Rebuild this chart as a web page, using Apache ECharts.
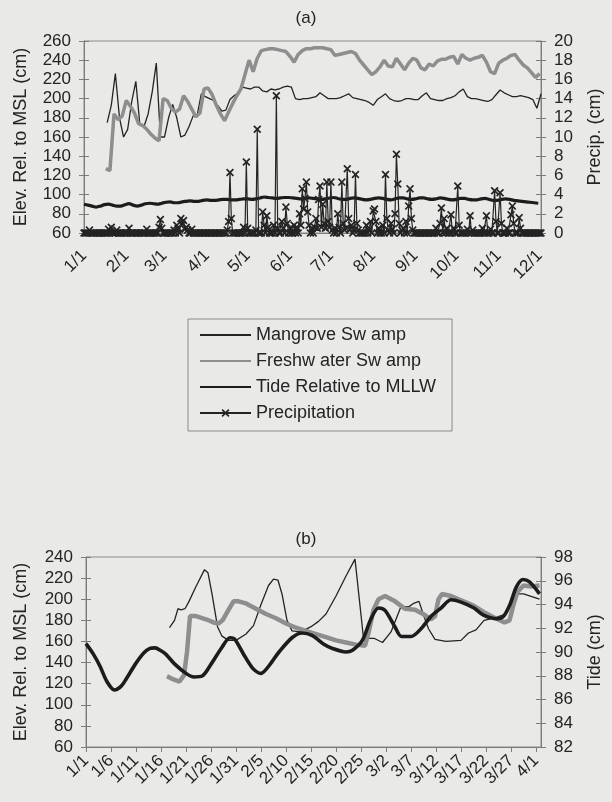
<!DOCTYPE html>
<html>
<head>
<meta charset="utf-8">
<script src="https://cdn.jsdelivr.net/npm/echarts@6.0.0/dist/echarts.min.js"></script>
<style>
html, body { margin: 0; padding: 0; background: #e9e9e7; }
#chart { width: 612px; height: 802px; }
</style>
</head>
<body>
<div id="chart"></div>
<script>
// ---- chart (a): whole year, x = day of year (0 = 1/1) ----
var monthDays = [0, 31, 59, 90, 120, 151, 181, 212, 243, 273, 304, 334];
var monthLabels = ['1/1', '2/1', '3/1', '4/1', '5/1', '6/1', '7/1', '8/1', '9/1', '10/1', '11/1', '12/1'];

// mangrove, every 3 days from day 17
var aMangroveVals = [175, 193, 226, 180, 160, 168, 197, 218, 172, 171,
  184, 207, 237, 160, 160, 180, 194, 180, 160, 162,
  171, 182, 183, 205, 202, 200, 198, 193, 187, 188,
  199, 203, 206, 212, 211, 210, 212, 212, 208, 207,
  210, 209, 210, 212, 213, 212, 200, 199, 200, 200,
  201, 202, 206, 203, 200, 200, 200, 201, 203, 205,
  201, 200, 199, 198, 196, 193, 199, 202, 205, 200,
  198, 197, 198, 200, 200, 199, 199, 203, 206, 200,
  199, 198, 198, 200, 201, 203, 207, 210, 202, 200,
  200, 199, 198, 197, 199, 204, 209, 206, 204, 202,
  202, 203, 202, 201, 199, 190, 205];

// freshwater, every 3 days from day 16
var aFreshVals = [127, 125, 184, 178, 182, 198, 192, 185, 174, 172,
  168, 163, 159, 156, 200, 198, 190, 186, 189, 203,
  197, 189, 181, 185, 210, 211, 204, 193, 184, 177,
  186, 195, 203, 210, 225, 240, 228, 242, 250, 251,
  252, 252, 251, 250, 249, 244, 238, 246, 250, 252,
  252, 253, 253, 253, 252, 251, 245, 246, 247, 248,
  249, 247, 240, 235, 230, 225, 228, 233, 240, 234,
  233, 242, 236, 230, 237, 242, 240, 232, 230, 236,
  234, 239, 241, 241, 243, 244, 236, 246, 242, 240,
  242, 243, 245, 238, 228, 226, 237, 240, 242, 245,
  246, 240, 235, 232, 227, 222, 226];

// tide relative to MLLW, every 3 days from day 0
var aTideVals = [90, 89, 88, 87, 88, 89.5, 90, 89, 88, 88,
  89.5, 90.5, 89, 88, 89, 90.5, 91, 90.5, 90, 91,
  92, 92.5, 91.5, 91.5, 92.5, 93, 93.5, 93, 93, 94,
  94.5, 94, 94, 94.5, 95, 95, 94.5, 94.5, 95, 95.5,
  95.5, 95, 95.5, 96.5, 97.5, 97, 96.5, 96, 96.5, 97,
  97, 96.5, 96, 95.5, 96, 96.5, 96, 95.5, 95, 95.5,
  96.5, 97, 96, 95, 95, 96, 96.5, 96, 95, 94.5,
  95, 96, 96.5, 96, 95, 94.5, 95.5, 96.5, 96.5, 95.5,
  95, 95.5, 96.5, 96.5, 95.5, 95, 95.5, 96.5, 96, 95,
  94.5, 95, 96, 96, 95, 94.5, 94.5, 95.5, 96, 95,
  94, 94, 95, 95.5, 95, 94, 93.5, 93, 92.5, 92,
  91.5, 91];

// daily precipitation (cm), day 0 .. 335
var aPrecipVals = [
  0, 0, 0, 0, 0.3, 0, 0, 0, 0, 0,
  0, 0, 0, 0, 0, 0, 0, 0, 0.4, 0,
  0.6, 0, 0, 0, 0.3, 0, 0, 0, 0, 0,
  0, 0, 0, 0.5, 0, 0, 0, 0, 0, 0,
  0, 0, 0, 0, 0, 0, 0.4, 0, 0, 0,
  0, 0, 0, 0, 0, 0.6, 1.4, 0.5, 0, 0,
  0, 0, 0, 0, 0, 0, 0.3, 0, 0.8, 0.5,
  0, 1.5, 0.9, 1.3, 0.4, 0.6, 0.3, 0, 0, 0.4,
  0, 0, 0, 0, 0, 0, 0, 0, 0, 0,
  0, 0, 0, 0, 0, 0, 0, 0, 0, 0,
  0, 0, 0, 0, 0, 0.3, 1.2, 6.3, 1.5, 0,
  0, 0, 0, 0, 0, 0, 0, 0.6, 0, 7.4,
  0.5, 0, 0, 0, 0, 0, 0.3, 10.8, 0, 0,
  0, 2.2, 0.8, 0, 1.8, 0.6, 0, 0, 0, 0.8,
  0, 14.3, 0.5, 0, 0, 1.2, 0.5, 0, 2.7, 1.0,
  0, 0.5, 0, 0, 0.8, 0, 0.6, 0, 2.0, 0.8,
  4.6, 2.5, 3.6, 5.3, 2.2, 0.8, 0, 0.5, 0, 0.6,
  1.5, 0.5, 3.5, 4.9, 0.6, 3.0, 1.0, 0.5, 5.3, 1.2,
  0.6, 5.3, 0.3, 0, 0.5, 0, 2.0, 0.6, 0, 5.3,
  1.0, 0.3, 0.5, 6.7, 1.5, 0.4, 0.8, 0, 0.3, 6.1,
  1.0, 0.3, 0, 0, 0, 0, 0, 0.8, 0, 0.3,
  1.2, 0, 2.3, 2.5, 1.2, 0, 0.5, 0, 0, 0.8,
  0, 6.1, 1.5, 0.3, 0, 1.0, 0.4, 0, 2.0, 8.2,
  5.1, 1.0, 0, 0.3, 0.5, 0, 1.2, 0, 2.8, 4.6,
  1.5, 0.3, 0, 0, 0, 0, 0, 0, 0, 0,
  0, 0, 0, 0, 0, 0, 0, 0, 0.5, 0,
  0, 1.0, 2.6, 0, 1.5, 0, 0.5, 0, 0, 1.9,
  0, 0.5, 0, 0, 4.9, 0.8, 0, 0, 0, 0,
  0, 0.4, 0, 1.8, 0, 0.3, 0, 0, 0, 0,
  0, 0, 0.5, 0, 0, 1.8, 0, 0, 0.4, 0,
  0, 4.4, 1.2, 0, 0, 4.2, 1.0, 0, 0, 0,
  0.5, 0, 0, 1.9, 2.8, 1.0, 0, 0, 0, 1.6,
  0.5, 0, 0, 0, 0, 0, 0, 0, 0, 0,
  0, 0, 0, 0, 0, 0];

// ---- chart (b): 1/1 - 4/1 ----
var bTickDays = [0, 5, 10, 15, 20, 25, 30, 35, 40, 45, 50, 55, 60, 65, 70, 75, 80, 85, 90];
var bTickLabels = ['1/1', '1/6', '1/11', '1/16', '1/21', '1/26', '1/31', '2/5', '2/10', '2/15',
  '2/20', '2/25', '3/2', '3/7', '3/12', '3/17', '3/22', '3/27', '4/1'];

var bMangroveDays = [16.7, 17.7, 18.4, 19, 19.8, 20.5, 22, 23.7, 24.4, 25.2, 26.3, 27.2, 28.5, 30, 32, 33.5, 35,
  36.5, 37.5, 38.4, 39.2, 40.2, 41.2, 43, 45, 46.5, 48, 50, 52, 53.8, 55.5, 57.6, 59.3, 61, 63, 64.6,
  65.5, 66.6, 67.5, 68.5, 69.8, 72, 75, 76.5, 78, 79.6, 81.5, 84, 85.7, 87.5, 90.7];
var bMangroveVals = [173, 180, 191, 190, 191, 197, 212, 228, 225, 205, 174, 165, 161, 161, 167, 175, 195,
  213, 219, 218, 205, 180, 170, 169, 174, 179, 186, 203, 222, 238, 163, 163, 159, 169, 193, 193,
  196, 198, 185, 172, 162, 160, 161, 168, 171, 180, 182, 186, 205, 205, 200];

var bFreshDays = [16.2, 17.5, 18.7, 19.6, 20.2, 20.8, 22, 24, 25.5, 26.5, 27.3, 28.5, 29.5, 30.5, 32, 34, 36,
  38, 40, 42, 44, 46, 48, 50, 52, 54, 55.8, 56.5, 57.5, 58.5, 59.8, 61.8, 63.8, 65.8, 67.4, 69, 69.8,
  70.5, 71.2, 73, 75, 77.5, 79.5, 81.5, 83.7, 84.7, 85.5, 86.3, 87.5, 89, 90.7];
var bFreshVals = [127, 124, 122, 128, 150, 184, 184, 181, 178, 177, 180, 190, 198, 198, 196, 191, 186,
  182, 177, 173, 170, 167, 164, 161, 159, 157, 156, 168, 190, 200, 203, 198, 191, 190, 186, 181, 184,
  200, 205, 203, 199, 194, 188, 183, 178, 180, 195, 207, 213, 212, 213];

var bTideDays = [0, 1.5, 2.8, 4.2, 5.7, 7, 8, 9.9, 11.5, 12.8, 13.8, 15, 16, 17.7, 20, 21.6, 23.3, 24.9,
  27.2, 28.8, 29.7, 31.4, 33.4, 35, 36.7, 38.6, 41.2, 43.2, 45.2, 47.4, 49.3, 52, 53.3, 55.3, 56.9,
  58.5, 59.8, 61.8, 63.1, 65, 67.1, 69, 71, 73, 75, 77.6, 79.5, 82.2, 83.5, 84.8, 86.1, 87.4, 88.7, 90.7];
var bTideVals = [90.7, 89.8, 88.8, 87.5, 86.8, 87.1, 87.7, 89.0, 89.9, 90.3, 90.35, 90.1, 89.8, 89.0, 88.2,
  87.9, 88.0, 88.9, 90.4, 91.2, 91.1, 89.9, 88.6, 88.2, 88.9, 90.0, 91.2, 91.6, 91.4, 90.7, 90.3, 90.0,
  90.15, 91.0, 92.7, 93.7, 93.5, 92.1, 91.3, 91.3, 92.0, 93.0, 93.7, 94.4, 94.2, 93.7, 93.1, 92.8, 93.0,
  94.0, 95.5, 96.1, 95.9, 94.9];

var seriesNames = ['Mangrove Sw amp', 'Freshw ater Sw amp', 'Tide Relative to MLLW', 'Precipitation'];

var FONT = '"Liberation Sans", Arial, sans-serif';
var INK = '#242424';
var AXIS = '#7c7c7c';
var GRAY = '#8e8e8e';
// x-shaped marker
var XMARK = 'path://M0,1.5L1.5,0L5,3.5L8.5,0L10,1.5L6.5,5L10,8.5L8.5,10L5,6.5L1.5,10L0,8.5L3.5,5Z';

function stepData(start, step, vals) {
  return vals.map(function (v, i) { return [start + i * step, v]; });
}
function pairData(days, vals) {
  return days.map(function (d, i) { return [d, vals[i]]; });
}

function valueAxis(grid, pos, min, max, interval, name, gap) {
  return {
    type: 'value', gridIndex: grid, position: pos,
    min: min, max: max, interval: interval,
    name: name, nameLocation: 'middle', nameRotate: 90, nameGap: gap,
    nameTextStyle: { fontFamily: FONT, fontSize: 18, color: INK },
    axisLine: { show: true, lineStyle: { color: AXIS, width: 1 } },
    axisTick: { show: true, length: 5, lineStyle: { color: AXIS } },
    axisLabel: { margin: 13, fontFamily: FONT, fontSize: 17, color: INK },
    splitLine: { show: false }
  };
}
// second axis on the same side, only to make the ticks cross the axis line
function innerTicks(grid, pos, min, max, interval) {
  return {
    type: 'value', gridIndex: grid, position: pos,
    min: min, max: max, interval: interval,
    axisLine: { show: false }, axisLabel: { show: false }, splitLine: { show: false },
    axisTick: { show: true, inside: true, length: 5, lineStyle: { color: AXIS } }
  };
}

// legend entries: plain line samples, except precipitation which keeps its marker
var noMarker = { color: 'rgba(0,0,0,0)', borderWidth: 0 };
var legendData = [
  { name: seriesNames[0], itemStyle: noMarker },
  { name: seriesNames[1], itemStyle: noMarker },
  { name: seriesNames[2], itemStyle: noMarker },
  { name: seriesNames[3] }
];

var chart = echarts.init(document.getElementById('chart'), null, { renderer: 'canvas' });

chart.setOption({
  backgroundColor: '#e9e9e7',
  animation: false,
  title: [
    { text: '(a)', left: 'center', top: 5, textStyle: { fontFamily: FONT, fontSize: 17, fontWeight: 'normal', color: INK } },
    { text: '(b)', left: 'center', top: 526, textStyle: { fontFamily: FONT, fontSize: 17, fontWeight: 'normal', color: INK } }
  ],
  legend: {
    orient: 'vertical', left: 188, top: 319,
    data: legendData, selectedMode: false,
    itemWidth: 51, itemHeight: 10, itemGap: 8,
    padding: [7, 16, 9, 11],
    borderColor: '#8a8a8a', borderWidth: 1,
    textStyle: { fontFamily: FONT, fontSize: 18, color: INK }
  },
  grid: [
    { left: 84, right: 69, top: 41, height: 192, show: true, borderColor: '#8a8a8a', borderWidth: 1, backgroundColor: 'transparent' },
    { left: 86, right: 64, top: 557, height: 190, show: true, borderColor: '#8a8a8a', borderWidth: 1, backgroundColor: 'transparent' }
  ],
  xAxis: [
    {
      type: 'value', gridIndex: 0, min: 0, max: 335,
      axisLine: { show: true, lineStyle: { color: AXIS } },
      axisTick: { show: false },
      splitLine: { show: false },
      axisLabel: {
        customValues: monthDays, rotate: 45, margin: 20,
        fontFamily: FONT, fontSize: 17, color: INK,
        formatter: function (v) { var i = monthDays.indexOf(v); return i < 0 ? '' : monthLabels[i]; }
      }
    },
    {
      type: 'value', gridIndex: 1, min: 0, max: 91,
      axisLine: { show: true, lineStyle: { color: AXIS } },
      axisTick: { show: true, customValues: bTickDays, length: 5, lineStyle: { color: AXIS } },
      splitLine: { show: false },
      axisLabel: {
        customValues: bTickDays, rotate: 45, margin: 11,
        fontFamily: FONT, fontSize: 17, color: INK,
        formatter: function (v) { var i = bTickDays.indexOf(v); return i < 0 ? '' : bTickLabels[i]; }
      }
    }
  ],
  yAxis: [
    valueAxis(0, 'left', 60, 260, 20, 'Elev. Rel. to MSL (cm)', 54),
    valueAxis(0, 'right', 0, 20, 2, 'Precip. (cm)', 45),
    innerTicks(0, 'left', 60, 260, 20),
    innerTicks(0, 'right', 0, 20, 2),
    valueAxis(1, 'left', 60, 240, 20, 'Elev. Rel. to MSL (cm)', 56),
    valueAxis(1, 'right', 82, 98, 2, 'Tide (cm)', 45),
    innerTicks(1, 'left', 60, 240, 20),
    innerTicks(1, 'right', 82, 98, 2)
  ],
  series: [
    {
      name: seriesNames[0], type: 'line', xAxisIndex: 0, yAxisIndex: 0,
      data: stepData(17, 3, aMangroveVals), symbol: 'none',
      lineStyle: { color: INK, width: 1.3 }, itemStyle: { color: INK }
    },
    {
      name: seriesNames[1], type: 'line', xAxisIndex: 0, yAxisIndex: 0,
      data: stepData(16, 3, aFreshVals), symbol: 'none',
      lineStyle: { color: GRAY, width: 3.5 }, itemStyle: { color: GRAY }
    },
    {
      name: seriesNames[2], type: 'line', xAxisIndex: 0, yAxisIndex: 0,
      data: stepData(0, 3, aTideVals), symbol: 'none', smooth: 0.3,
      lineStyle: { color: '#1c1c1c', width: 3.2 }, itemStyle: { color: '#1c1c1c' }
    },
    {
      name: seriesNames[3], type: 'line', xAxisIndex: 0, yAxisIndex: 1,
      data: stepData(0, 1, aPrecipVals),
      symbol: XMARK, symbolSize: 8, showSymbol: true, showAllSymbol: true,
      lineStyle: { color: INK, width: 1.2 }, itemStyle: { color: INK }
    },
    {
      name: seriesNames[0], type: 'line', xAxisIndex: 1, yAxisIndex: 4,
      data: pairData(bMangroveDays, bMangroveVals), symbol: 'none',
      lineStyle: { color: INK, width: 1.3 }, itemStyle: { color: INK }
    },
    {
      name: seriesNames[1], type: 'line', xAxisIndex: 1, yAxisIndex: 4,
      data: pairData(bFreshDays, bFreshVals), symbol: 'none',
      lineStyle: { color: GRAY, width: 4.5 }, itemStyle: { color: GRAY }
    },
    {
      name: seriesNames[2], type: 'line', xAxisIndex: 1, yAxisIndex: 5,
      data: pairData(bTideDays, bTideVals), symbol: 'none', smooth: 0.3,
      lineStyle: { color: '#1c1c1c', width: 3.6 }, itemStyle: { color: '#1c1c1c' }
    }
  ]
});

window.addEventListener('resize', function () { chart.resize(); });
</script>
</body>
</html>
